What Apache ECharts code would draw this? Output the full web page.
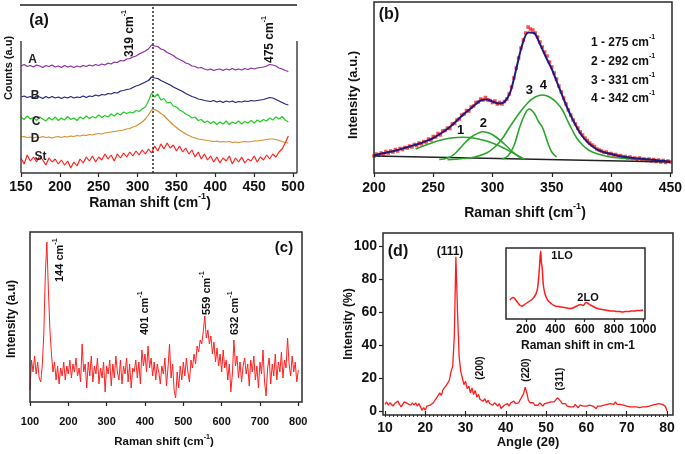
<!DOCTYPE html>
<html><head><meta charset="utf-8">
<script src="https://cdn.jsdelivr.net/npm/echarts@6/dist/echarts.min.js"></script>
<style>html,body{margin:0;padding:0;background:#fff}#c{width:685px;height:454px}</style>
</head><body><div id="c"></div>
<script>
const FONT = 'Liberation Sans, Arial, Helvetica, sans-serif';

// ---------- Panel (a): Raman spectra A, B, C, D, St (x from 150, step 4) ----------
const aStart = 150, aStep = 4;
const aTicks = [150, 200, 250, 300, 350, 400, 450, 500];
const specA = [107,108.5,106.5,107.5,106,108,107,105.5,107.5,106.5,108,106,107,105.5,107.5,106,107,105.5,107,106,107.5,106.5,108,107,108.5,107.5,109,108,110,109,111,110.5,112.5,112,114,114.5,116,117,119,120.5,122,124,128,127,126.5,124,123,120.5,119,117.5,115,113.5,112,110,109,107,106.5,105,105.5,104,103,104,102.5,103.5,104,102.5,104,103,104.5,103,104,103,104.5,103.5,105,104,105,105.5,106,107,108.5,108,107,105,104,102.5,101.5];
const specB = [76,77,75.5,76.5,75,77,76,74.5,76.5,75,76.5,75,76,74.5,76,75,76.5,75,76,75.5,77,75.5,77,76.5,78,77,78.5,78,79.5,79,80.5,80,82,82.5,83.5,84,85.5,87,88,89.5,91,92.5,96,95,94.5,92.5,91,89.5,88,86,84.5,83,81.5,79.5,78,76.5,75.5,74,73.5,72.5,72,71.5,72.5,71,72,70.5,72,71,72,70.5,71.5,71,72,71.5,72.5,72,72.5,73,73.5,74.5,75.5,75,73.5,72,70.5,69,68];
const specC = [56,53.5,57,54,55.5,52.5,56,54,52,55.5,53,56,52.5,55,53,56.5,53.5,55,52.5,56,54,57,54.5,56.5,55,58,55.5,57.5,56,59,57,60,58,61,59.5,61,60,62.5,61.5,64,66,72,80,76,79,73,74.5,70,71,67,66,63,61.5,59,57.5,55,56,52.5,53.5,50.5,52,49.5,51.5,48.5,51,49,52,48.5,51,49.5,52,49,51.5,50,52.5,50,53,51,53.5,52,55,53,56,54,56.5,53,51];
const specD = [36,36.5,35.5,36,35,36,35.5,36.5,35.5,36,35,36,36.5,35.5,36.5,36,37,36.5,37.5,37,38,37.5,38.5,38,39,39.5,39,40,40.5,41,41.5,42,42.5,43,44,44.5,46,47,49,51,54,58,63,63.5,62,59.5,57.5,54,51,48,45.5,43,41,39,37.5,36,35,34,33.5,33,32.5,32,31.5,32,31,31.5,31,31.5,30.5,31,30.5,31,31.5,31,31.5,32,32,32.5,33,33.5,34,34,33.5,32.5,31.5,30.5,30];
const specSt = [15,9,18,12,16,11,17,13,8,15,11,14,9,13,8,12,5,11,7,14,10,16,12,17,11,16,13,19,14,18,12,19,15,20,16,21,17,22,18,23,19,24,20,27,22,29,24,30,25,28,22,27,21,25,19,23,16,21,14,19,13,17,11,16,10,15,12,17,9,15,11,16,10,14,12,17,11,16,13,18,14,19,16,21,24,30,37];
const markA = 320;

// ---------- Panel (b): measured (x from 200 step 2), fit (x from 200 step 5), peaks ----------
const bMeasStart = 200, bMeasStep = 2;
const bMeasured = [17,19,18,20,19,21.5,20,22,21,23.5,22,24.5,23.5,25.5,25,27,26,28.5,27.5,30,29,31.5,31,34,33,36.5,36,39.5,38,42,42.5,45,44.5,49,49.5,53,54,58,59,62.5,62,66,67,70.5,71,74,73,75.5,73,72.5,70.5,72,69,70.5,69,71.5,74,79,86,95,105,115,125,133,140,146,144,143,140,136,131,126,121,117,111,106,100,94,87,81,75,69,63,58,53,49,45,41,38,35,32.5,30,28,26.5,24,23,22,20.5,21,19,19.5,18,18.5,17,17.5,16,16.5,15,16,14.5,15,13.5,15,13.5,14,12.5,14,12,13.5,11.5,13,11,12.5,10.5,12,11];
const bFitStart = 200, bFitStep = 5;
const bFit = [17.5,19,20.3,21.6,23,24.8,26.5,28.2,30,32.3,35,38.5,42.5,47,52.5,58,63,68,72.5,73.5,71.5,69.5,71,81,104,128,140.5,140,129,116,104,89,74,60,48,38,31,26,22.5,20.5,19,17.5,16.3,15.5,14.8,14.3,13.8,13.2,12.6,12,11.3];
const bBaseX = [200, 450];
const bBaseY = [17, 11];
const p1X = [235,245,255,265,275,285,295,305,315,325];
const p1Y = [24,28.5,32.5,35,35.7,34.8,32,27.5,21.5,15];
const p2X = [255,262,268,275,282,288,292,298,304,310,316,322,327];
const p2Y = [13.5,15,19,28,36,40,41.3,39.5,35,29,22,16.5,14];
const p3X = [308,313,318,323,327,331,335,339,342,347,350,354];
const p3Y = [14,17,27,46,58,64,60,51,46,29,21,16];
const p4X = [262,275,285,295,302,308,314,322,330,336,342,348,354,359,363,367,371,376,381,387,398,410,425,432];
const p4Y = [13.2,14.5,16,20,26,34,45,59,70.5,76,78,76,70.5,63,53,43.5,35,28,23,19.8,16.3,14.8,13.8,13.5];
const bTicks = [200, 250, 300, 350, 400, 450];
const bPeakNames = ['1 - 275 cm', '2 - 292 cm', '3 - 331 cm', '4 - 342 cm'];

// ---------- Panel (c): Raman spectrum (x from 100 step 4) ----------
const cStart = 100, cStep = 4;
const cSpec = [12,42,30,46,28,40,24,20,36,68,128,160,112,72,48,30,40,22,36,18,34,26,40,22,36,28,42,24,38,30,44,26,34,20,58,30,38,14,40,26,46,20,36,28,44,18,34,24,40,10,36,28,42,16,38,24,46,30,22,42,18,36,28,44,20,38,14,34,30,42,24,40,18,52,36,48,30,56,34,44,26,40,22,38,30,18,36,28,44,16,34,58,24,38,12,4,30,14,36,22,40,26,44,30,20,42,34,48,38,56,50,62,58,70,86,64,72,58,66,48,60,40,54,36,48,30,52,34,42,22,38,10,28,62,36,46,24,40,20,36,44,28,38,16,42,30,46,22,36,14,40,28,52,20,6,34,44,18,38,26,48,22,40,30,50,24,42,34,64,38,26,46,30,40,20,32];
const cTicks = [100, 200, 300, 400, 500, 600, 700, 800];

// ---------- Panel (d): XRD (x from 10 step 0.4) + inset Raman ----------
const dStart = 10, dStep = 0.4;
const dXrd = [4,5.5,3.5,5,4.5,3,4.5,3.5,6,4,2.5,4,5.5,6.5,4.5,5.5,3.5,5,3.5,5,3,4.5,2.5,0.5,2,0.5,3,2,3.5,3,5,4.5,8,7,11,9.5,13,12,15.5,17,19,24,27,45,93.5,60,33,24,20,16,18,13.5,15,11,14,10,12.5,8.5,10,7,8,6,7.5,5,6.5,4.5,5.5,3.5,5,4,3,4.5,1.5,2,3.5,2.5,4.5,3,5,4,6,4.5,5.5,5,7,8,10.5,14.5,11,6.5,5,4,5,3.5,4.5,3.5,5,4,3,4.5,3.5,5,4,5.5,4.5,5.5,6,8,9,6,4.5,3.5,4.5,3,4,2.5,3.5,2.5,4,3,2,3.5,2.5,3,2,3,2,3.5,2.5,3,2,1.5,3,2,3,2.5,3.5,2.5,4,3,4.5,5,4,5.5,4,3.5,4,3,3.5,2.5,3,2,2.5,3,2.5,3.5,2.5,3,2,3,2.5,3.5,2.5,3.5,3,4,3.5,4.5,4,5,4.5,5,4,4.5,3,0];
const dTicksX = [10, 20, 30, 40, 50, 60, 70, 80];
const dTicksY = [0, 20, 40, 60, 80, 100];
const insetX = [90,100,110,120,130,140,150,160,170,180,190,200,210,220,230,240,250,260,270,280,290,295,300,305,310,315,320,330,340,350,360,380,400,420,440,460,480,500,520,540,560,575,590,600,610,620,640,660,680,700,720,740,760,780,800,820,840,860,880,900,920,940,960,980,1000];
const insetY = [19,20.5,21.5,21,19,17,15,13.5,13,13.5,14.5,15.5,16.5,17.5,18.5,19.5,21,23,26,32,48,60,68,56,52,40,32,25,21,18.5,17,14.5,13,12.5,12,11.5,11,10.5,11,12.5,14,14.5,13.5,15,16.5,16,14,12.5,11,10,9.5,9,8.5,8,8,7.5,7.5,7,7.5,7.5,8,8,8.5,8.5,9];
const insetTicks = [200, 400, 600, 800, 1000];

// ---------- helpers ----------
const seq = (start, step, arr) => arr.map((v, i) => [start + step * i, v]);
const zip = (xs, ys) => xs.map((x, i) => [x, ys[i]]);
const dMinor = [];
for (let v = dTicksX[0]; v <= dTicksX[dTicksX.length - 1]; v += 1) dMinor.push(v);
const lbl = (size, margin) => ({show: true, fontSize: size, fontWeight: 'bold', fontFamily: FONT, color: '#111', margin, formatter: v => String(v)});
const tick = (len) => ({show: true, length: len, inside: false, lineStyle: {color: '#222', width: 1.2}});
function T(x, y, text, size, o) {
  o = o || {};
  const col = o.color || '#111';
  return {type: 'text', x, y, rotation: o.rot || 0, z: 100, silent: true,
    style: {text, fill: col, fontSize: size, fontWeight: 'bold', fontFamily: FONT,
      align: o.align || 'center', verticalAlign: 'middle', lineHeight: Math.round(size * 1.5),
      rich: {s: {fontSize: Math.round(size * 0.62), fontWeight: 'bold', fontFamily: FONT, fill: col,
        verticalAlign: 'top', lineHeight: Math.round(size * 0.62)}}}};
}
function L(x1, y1, x2, y2, w, c) {
  return {type: 'line', silent: true, z: 90, shape: {x1, y1, x2, y2}, style: {stroke: c || '#333', lineWidth: w || 1.5}};
}
function R(x, y, w, h) {
  return {type: 'rect', silent: true, z: 90, shape: {x, y, width: w, height: h}, style: {fill: 'none', stroke: '#2a2a2a', lineWidth: 1.5}};
}
const line = (xi, yi, data, color, width, extra) => Object.assign({type: 'line', xAxisIndex: xi, yAxisIndex: yi, data,
  showSymbol: false, symbol: 'none', lineStyle: {color, width}, itemStyle: {color}, animation: false}, extra || {});

const chart = echarts.init(document.getElementById('c'), null, {renderer: 'canvas'});
const option = {
  animation: false,
  backgroundColor: '#fff',
  grid: [
    {left: 21, top: 5, width: 272, height: 168},
    {left: 374, top: 2, width: 298, height: 171},
    {left: 30, top: 232, width: 268.3, height: 170},
    {left: 383, top: 233, width: 290, height: 182},
    {left: 506, top: 248, width: 139, height: 71}
  ],
  xAxis: [
    {gridIndex: 0, type: 'value', min: aTicks[0], max: aTicks[aTicks.length - 1], interval: 50, axisLine: {show: false}, axisTick: tick(4), axisLabel: lbl(14, 7), splitLine: {show: false}},
    {gridIndex: 1, type: 'value', min: bTicks[0], max: bTicks[bTicks.length - 1], interval: 50, axisLine: {show: false}, axisTick: tick(4), axisLabel: lbl(14, 8), splitLine: {show: false}},
    {gridIndex: 2, type: 'value', min: cTicks[0], max: cTicks[cTicks.length - 1], interval: 100, axisLine: {show: false}, axisTick: tick(4), axisLabel: lbl(11, 14), splitLine: {show: false}},
    {gridIndex: 3, type: 'value', min: 9.5, max: 81.5, axisLine: {show: false},
      axisTick: Object.assign(tick(4), {customValues: dTicksX}), axisLabel: Object.assign(lbl(14, 6), {customValues: dTicksX}), splitLine: {show: false}},
    {gridIndex: 4, type: 'value', min: 63, max: 1013, axisLine: {show: false},
      axisTick: Object.assign(tick(3), {customValues: insetTicks}), axisLabel: Object.assign(lbl(12, 5), {customValues: insetTicks}), splitLine: {show: false}},
    {gridIndex: 3, type: 'value', position: 'bottom', min: 9.5, max: 81.5, axisLine: {show: false},
      axisTick: {show: true, length: 2, customValues: dMinor, lineStyle: {color: '#333', width: 1}}, axisLabel: {show: false}, splitLine: {show: false}}
  ],
  yAxis: [
    {gridIndex: 0, type: 'value', min: 0, max: 168, show: false},
    {gridIndex: 1, type: 'value', min: 0, max: 171, show: false},
    {gridIndex: 2, type: 'value', min: 0, max: 170, show: false},
    {gridIndex: 3, type: 'value', min: -2.42, max: 107.9, axisLine: {show: false},
      axisTick: Object.assign(tick(4), {customValues: dTicksY}), axisLabel: Object.assign(lbl(14, 6), {customValues: dTicksY}), splitLine: {show: false}},
    {gridIndex: 4, type: 'value', min: 0, max: 71, show: false}
  ],
  series: [
    line(0, 0, seq(aStart, aStep, specA), '#8b2c9e', 1.2, {markLine: {silent: true, symbol: 'none', label: {show: false},
      lineStyle: {type: [2, 2], color: '#333', width: 1.6}, data: [{xAxis: markA}]}}),
    line(0, 0, seq(aStart, aStep, specB), '#23237a', 1.2),
    line(0, 0, seq(aStart, aStep, specC), '#22cc22', 1.2),
    line(0, 0, seq(aStart, aStep, specD), '#d38f2e', 1.2),
    line(0, 0, seq(aStart, aStep, specSt), '#ff2424', 1.2),

    {type: 'scatter', xAxisIndex: 1, yAxisIndex: 1, data: seq(bMeasStart, bMeasStep, bMeasured), symbol: 'rect', symbolSize: 3.5,
      itemStyle: {color: '#ff2020'}, animation: false, z: 2},
    line(1, 1, zip(bBaseX, bBaseY), '#222', 1.5, {z: 3}),
    line(1, 1, zip(p1X, p1Y), '#2aa52a', 1.6, {smooth: 0.4, z: 3}),
    line(1, 1, zip(p2X, p2Y), '#2aa52a', 1.6, {smooth: 0.4, z: 3}),
    line(1, 1, zip(p3X, p3Y), '#2aa52a', 1.6, {smooth: 0.4, z: 3}),
    line(1, 1, zip(p4X, p4Y), '#2aa52a', 1.6, {smooth: 0.4, z: 3}),
    line(1, 1, seq(bFitStart, bFitStep, bFit), '#1c1c80', 2, {smooth: 0.3, z: 4}),

    line(2, 2, seq(cStart, cStep, cSpec), '#ff2020', 1),
    line(3, 3, seq(dStart, dStep, dXrd), '#ff1c1c', 1.3),
    line(4, 4, zip(insetX, insetY), '#ff1c1c', 1.5, {smooth: 0.3})
  ],
  graphic: [
    // (a) frame
    L(20, 5, 297, 5, 2, '#555'), L(21, 41, 21, 173, 1.5, '#444'), L(297, 41, 297, 173, 1.5, '#444'), L(21, 173, 297, 173, 1.5, '#333'),
    R(374, 2, 298, 171), R(30, 232, 272, 170), R(383, 233, 290, 182), R(506, 248, 139, 71),
    // (a) texts
    T(39, 21, '(a)', 16),
    T(9, 68, 'Counts (a.u)', 11, {rot: Math.PI / 2}),
    T(150, 203, 'Raman shift (cm{s|-1})', 14),
    T(130, 57, '319 cm{s|-1}', 12, {rot: Math.PI / 2, align: 'left'}),
    T(270, 63, '475 cm{s|-1}', 12, {rot: Math.PI / 2, align: 'left'}),
    T(32.5, 59.5, 'A', 12, {color: '#222'}), T(35, 95.5, 'B', 12, {color: '#222'}), T(36, 122, 'C', 12, {color: '#222'}),
    T(35, 138.5, 'D', 12, {color: '#222'}), T(40.5, 157, 'St', 12, {color: '#222'}),
    // (b) texts
    T(389, 15, '(b)', 16),
    T(353, 95, 'Intensity (a.u.)', 13, {rot: Math.PI / 2}),
    T(525, 213, 'Raman shift (cm{s|-1})', 14),
    T(460.7, 130, '1', 13), T(483.3, 123.3, '2', 13), T(529.3, 90, '3', 13), T(543.3, 85, '4', 13),
    T(591, 43, bPeakNames[0] + '{s|-1}', 12, {align: 'left'}),
    T(591, 62, bPeakNames[1] + '{s|-1}', 12, {align: 'left'}),
    T(591, 81, bPeakNames[2] + '{s|-1}', 12, {align: 'left'}),
    T(591, 99, bPeakNames[3] + '{s|-1}', 12, {align: 'left'}),
    // (c) texts
    T(284, 248, '(c)', 15),
    T(12, 319, 'Intensity (a.u)', 12, {rot: Math.PI / 2}),
    T(164, 442, 'Raman shift (cm{s|-1})', 11.5),
    T(60, 282, '144 cm{s|-1}', 11, {rot: Math.PI / 2, align: 'left'}),
    T(145, 335, '401 cm{s|-1}', 11, {rot: Math.PI / 2, align: 'left'}),
    T(206.7, 315, '559 cm{s|-1}', 11, {rot: Math.PI / 2, align: 'left'}),
    T(235, 335, '632 cm{s|-1}', 11, {rot: Math.PI / 2, align: 'left'}),
    // (d) texts
    T(398, 252, '(d)', 16),
    T(349, 324, 'Intensity (%)', 12, {rot: Math.PI / 2}),
    T(528, 442, 'Angle (2θ)', 13),
    T(450, 252, '(111)', 12),
    T(480, 368, '(200)', 10, {rot: Math.PI / 2}),
    T(526.7, 370, '(220)', 10, {rot: Math.PI / 2}),
    T(560, 379, '(311)', 10, {rot: Math.PI / 2}),
    T(562, 256, '1LO', 11), T(588, 297.5, '2LO', 11),
    T(578, 346, 'Raman shift in cm-1', 12)
  ]
};
chart.setOption(option);
</script>
</body></html>
